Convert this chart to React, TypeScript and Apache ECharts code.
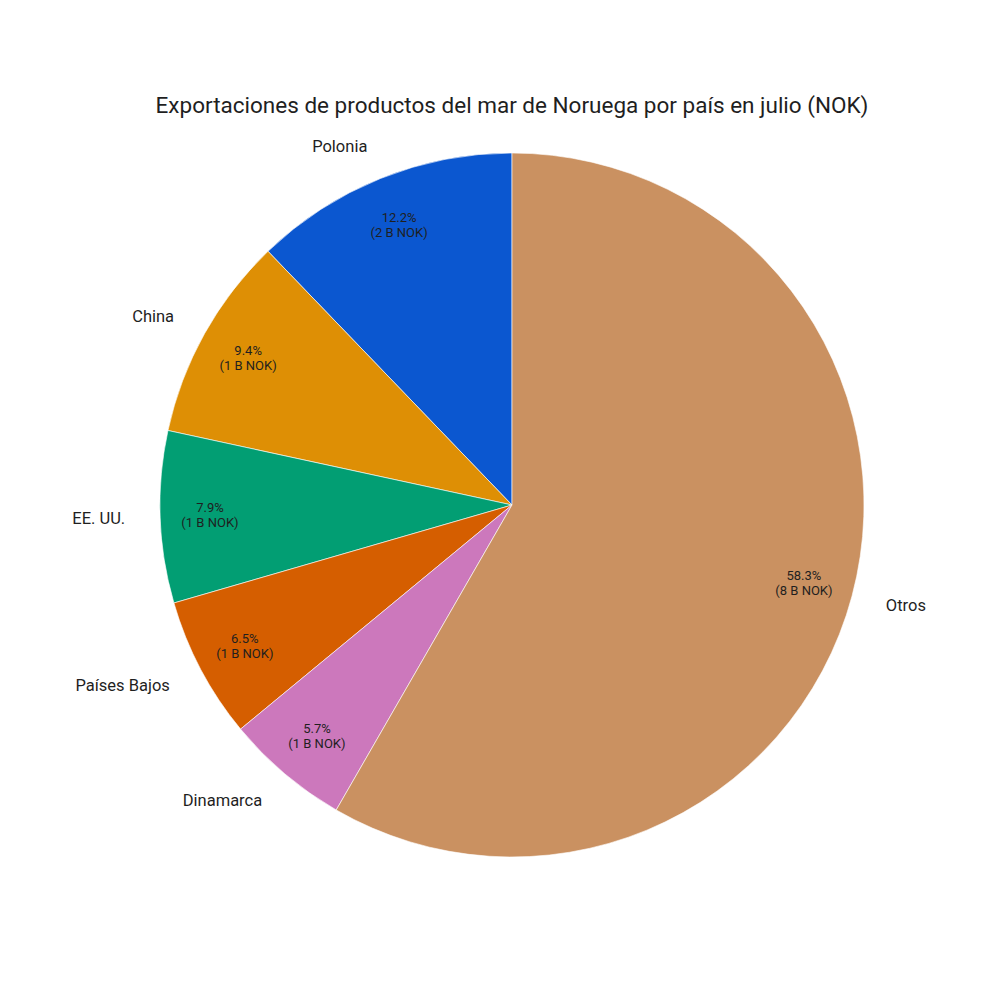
import React, { useEffect, useRef } from "react";
import * as echarts from "echarts";

const categories = ["Polonia", "China", "EE. UU.", "Países Bajos", "Dinamarca", "Otros"];
const valuesBillionNOK = [1.67, 1.29, 1.08, 0.89, 0.78, 7.99];
const colors = ["#0b57d0", "#de8f05", "#029e73", "#d55e00", "#cc78bc", "#ca9161"];
const titleText = "Exportaciones de productos del mar de Noruega por país en julio (NOK)";

const FONT = "Roboto";

export default function App() {
  const ref = useRef<HTMLDivElement>(null);
  useEffect(() => {
    document.body.style.margin = "0";
    const chart = echarts.init(ref.current!, null, { renderer: "svg" });
    const R = 352;
    const center = [512, 505];
    const data = categories.map((name, i) => ({
      name,
      value: valuesBillionNOK[i],
      itemStyle: { color: colors[i] },
    }));
    chart.setOption({
      animation: false,
      title: {
        text: titleText,
        left: 507,
        textAlign: "center",
        top: 88,
        textStyle: { fontFamily: FONT, fontSize: 22.5, fontWeight: "normal", color: "#1f1f1f" },
      },
      series: [
        {
          type: "pie",
          center,
          radius: [0, R],
          startAngle: 90,
          clockwise: false,
          avoidLabelOverlap: false,
          silent: true,
          data,
          itemStyle: { borderColor: "#ffffff", borderWidth: 0.6 },
          label: {
            show: true,
            position: "outside",
            formatter: "{b}",
            fontFamily: FONT,
            fontSize: 16.5,
            color: "#1f1f1f",
            distanceToLabelLine: 0,
          },
          labelLine: { show: false, length: 35, length2: 0 },
        },
        {
          type: "pie",
          center,
          radius: [R * 0.7, R],
          startAngle: 90,
          clockwise: false,
          avoidLabelOverlap: false,
          silent: true,
          data: data.map((d) => ({ ...d, itemStyle: { color: "rgba(0,0,0,0)" } })),
          itemStyle: { borderWidth: 0 },
          label: {
            show: true,
            position: "inside",
            formatter: (p: any) =>
              `${p.percent.toFixed(1)}%\n(${Math.round(p.value)} B NOK)`,
            fontFamily: FONT,
            fontSize: 13,
            lineHeight: 15,
            color: "#1f1f1f",
          },
          labelLine: { show: false },
        },
      ],
    });
    return () => chart.dispose();
  }, []);
  return <div ref={ref} style={{ width: 1000, height: 1000 }} />;
}
